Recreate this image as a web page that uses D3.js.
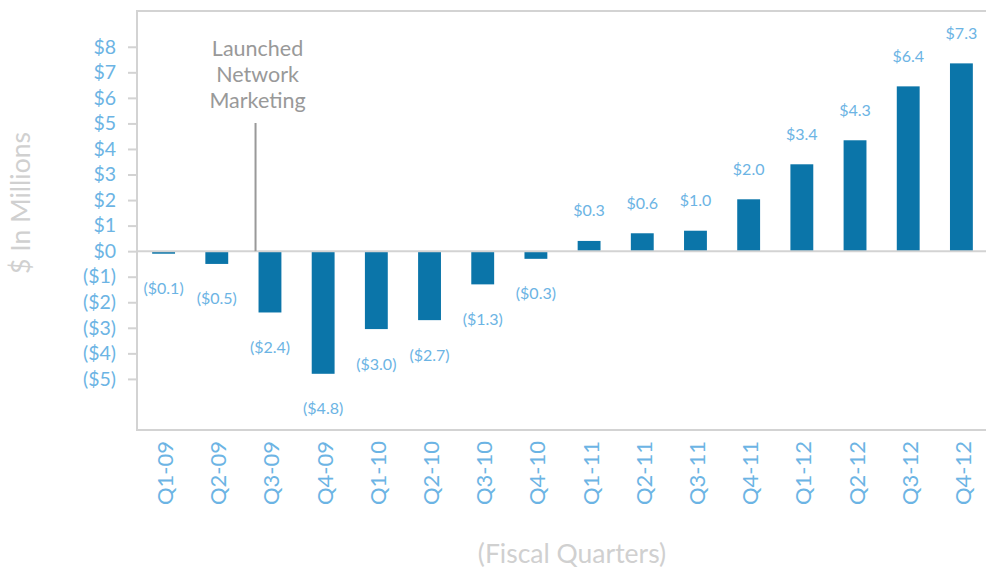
<!DOCTYPE html>
<html>
<head>
<meta charset="utf-8">
<script src="https://cdn.jsdelivr.net/npm/d3@7"></script>
<style>
	body { margin: 0; background: #fff; }
	text { font-family: Lato, "Open Sans", sans-serif; }
</style>
</head>
<body>
<svg width="986" height="569"></svg>
<script>
// fiscal quarters
let quarters = ['Q1-09','Q2-09','Q3-09','Q4-09','Q1-10','Q2-10','Q3-10','Q4-10',
	'Q1-11','Q2-11','Q3-11','Q4-11','Q1-12','Q2-12','Q3-12','Q4-12']
// bar heights, $ millions (as drawn)
let values = [-0.1, -0.5, -2.4, -4.8, -3.05, -2.7, -1.3, -0.3,
	0.4, 0.7, 0.8, 2.03, 3.4, 4.34, 6.45, 7.35]
// printed value labels
let valueLabels = ['($0.1)','($0.5)','($2.4)','($4.8)','($3.0)','($2.7)','($1.3)','($0.3)',
	'$0.3','$0.6','$1.0','$2.0','$3.4','$4.3','$6.4','$7.3']
let yTicks = [-5, -4, -3, -2, -1, 0, 1, 2, 3, 4, 5, 6, 7, 8]
let note = ['Launched', 'Network', 'Marketing']
let noteAt = 'Q3-09'

let svg = d3.select('svg')
let pLeft = 137, pRight = 988, pTop = 11, pBottom = 430

let x = d3.scaleBand()
	.domain(quarters)
	.range([pLeft, pRight])
	.paddingInner(0.57)
	.paddingOuter(0.285)
let y = d3.scaleLinear()
	.domain([-7, 9.4])
	.range([pBottom, pTop])

let fmt = d => d < 0 ? `($${-d})` : `$${d}`

// frame
svg.append('rect')
	.attr('x', pLeft).attr('y', pTop)
	.attr('width', pRight - pLeft).attr('height', pBottom - pTop)
	.attr('fill', 'none').attr('stroke', '#d3d3d3').attr('stroke-width', 2)

// y axis
let yAxis = svg.append('g')
	.attr('transform', `translate(${pLeft},0)`)
	.call(d3.axisLeft(y).tickValues(yTicks).tickFormat(fmt).tickSize(9).tickPadding(12))
yAxis.select('.domain').remove()
yAxis.selectAll('.tick line').attr('stroke', '#d3d3d3').attr('stroke-width', 2)
yAxis.selectAll('.tick text')
	.attr('fill', '#6cb4e4')
	.style('font-size', '19.5px')
	.style('font-family', 'Lato, sans-serif')

// bars
svg.append('g').selectAll('rect')
	.data(values)
	.join('rect')
	.attr('x', (d, i) => x(quarters[i]))
	.attr('width', x.bandwidth())
	.attr('y', d => y(Math.max(0, d)))
	.attr('height', d => Math.abs(y(d) - y(0)))
	.attr('fill', '#0b75a9')

// zero line
svg.append('line')
	.attr('x1', pLeft).attr('x2', pRight)
	.attr('y1', y(0)).attr('y2', y(0))
	.attr('stroke', '#d3d3d3').attr('stroke-width', 2)

// value labels
svg.append('g').selectAll('text')
	.data(values)
	.join('text')
	.attr('x', (d, i) => x(quarters[i]) + x.bandwidth() / 2)
	.attr('y', d => d < 0 ? y(d) + 34 : y(d) - 31)
	.attr('text-anchor', 'middle')
	.attr('dominant-baseline', 'central')
	.attr('fill', '#6cb4e4')
	.style('font-size', '16px')
	.text((d, i) => valueLabels[i])

// x axis labels
svg.append('g').selectAll('text')
	.data(quarters)
	.join('text')
	.attr('transform', d => `translate(${x(d) + x.bandwidth() / 2 + 1},441) rotate(-90)`)
	.attr('text-anchor', 'end')
	.attr('dominant-baseline', 'central')
	.attr('fill', '#6cb4e4')
	.style('font-size', '22px')
	.text(d => d)

// annotation
let nx = x(noteAt) - 3
svg.append('line')
	.attr('x1', nx).attr('x2', nx)
	.attr('y1', 123).attr('y2', y(0))
	.attr('stroke', '#999').attr('stroke-width', 2)
svg.append('g').selectAll('text')
	.data(note)
	.join('text')
	.attr('x', nx + 2)
	.attr('y', (d, i) => 48 + i * 26)
	.attr('text-anchor', 'middle')
	.attr('dominant-baseline', 'central')
	.attr('fill', '#999')
	.style('font-size', '21.5px')
	.text(d => d)

// axis titles
svg.append('text')
	.attr('transform', 'translate(20,203) rotate(-90)')
	.attr('text-anchor', 'middle')
	.attr('dominant-baseline', 'central')
	.attr('fill', '#d0d0d0')
	.style('font-size', '26.5px')
	.text('$ In Millions')
svg.append('text')
	.attr('x', 572).attr('y', 553)
	.attr('text-anchor', 'middle')
	.attr('dominant-baseline', 'central')
	.attr('fill', '#d0d0d0')
	.style('font-size', '26.5px')
	.text('(Fiscal Quarters)')
</script>
</body>
</html>
